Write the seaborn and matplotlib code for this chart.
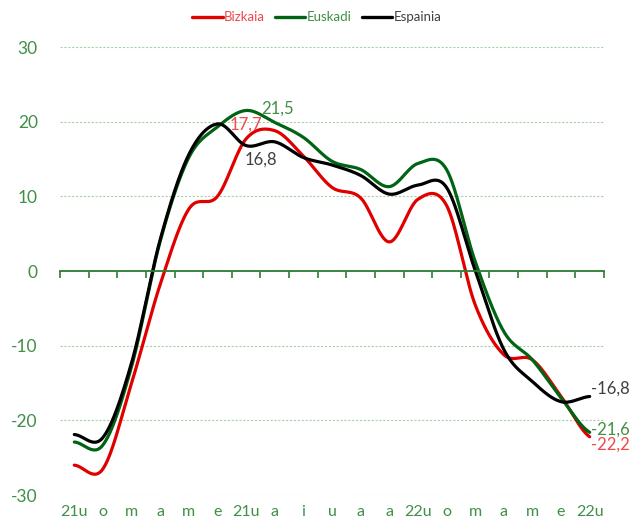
import numpy as np
import pandas as pd
import matplotlib
matplotlib.use("Agg")
import matplotlib.pyplot as plt
from matplotlib.lines import Line2D
import seaborn as sns

sns.set_style("white")
plt.rcParams['font.family'] = ['Lato', 'DejaVu Sans']

# categories (x axis)
months = ["21u", "o", "m", "a", "m", "e", "21u", "a", "i", "u", "a", "a",
          "22u", "o", "m", "a", "m", "e", "22u"]

bizkaia = [-26.0, -26.5, -15.0, -1.8, 8.3, 10.0, 17.7, 18.8, 15.4, 11.2,
           9.8, 3.9, 9.6, 8.8, -4.5, -11.2, -11.9, -16.8, -22.2]
euskadi = [-22.9, -23.3, -12.8, 4.0, 15.2, 19.3, 21.5, 19.9, 17.9, 14.7,
           13.6, 11.3, 14.4, 13.6, 1.3, -8.1, -11.9, -17.0, -21.6]
espainia = [-21.9, -22.3, -12.3, 4.2, 15.6, 19.7, 16.8, 17.3, 15.2, 14.2,
            12.8, 10.3, 11.5, 11.2, 0.1, -10.5, -14.8, -17.5, -16.8]

series = {"Bizkaia": bizkaia, "Euskadi": euskadi, "Espainia": espainia}
line_colors = {"Bizkaia": "#e00000", "Euskadi": "#006414", "Espainia": "#000000"}
text_colors = {"Bizkaia": "#f0474a", "Euskadi": "#3f8f46", "Espainia": "#404040"}
axis_green = "#3f8f46"


def smooth(vals, steps=30):
    # excel-like smoothed line (catmull-rom bezier through every point)
    v = np.asarray(vals, dtype=float)
    n = len(v)
    xs, ys = [], []
    t = np.linspace(0, 1, steps, endpoint=False)
    for i in range(n - 1):
        p0 = v[i - 1] if i > 0 else v[i]
        p1, p2 = v[i], v[i + 1]
        p3 = v[i + 2] if i + 2 < n else v[i + 1]
        c1 = p1 + (p2 - p0) / 6
        c2 = p2 - (p3 - p1) / 6
        y = (1 - t) ** 3 * p1 + 3 * (1 - t) ** 2 * t * c1 + 3 * (1 - t) * t ** 2 * c2 + t ** 3 * p2
        xs.extend(i + t)
        ys.extend(y)
    xs.append(n - 1)
    ys.append(v[-1])
    return np.array(xs), np.array(ys)


rows = []
for name, vals in series.items():
    xs, ys = smooth(vals)
    rows.append(pd.DataFrame({"x": xs, "v": ys, "serie": name}))
df = pd.concat(rows, ignore_index=True)

fig = plt.figure(figsize=(6.3, 5.23), dpi=100)
ax = fig.add_axes([0.0952, 0.0535, 0.8635, 0.8566])

sns.lineplot(data=df, x="x", y="v", hue="serie", palette=line_colors,
             sort=False, estimator=None, linewidth=2.3, legend=False, ax=ax)

ax.set_xlim(-0.5, len(months) - 0.5)
ax.set_ylim(-30, 30)
ax.set_xlabel("")
ax.set_ylabel("")

# horizontal dashed grid
ax.set_yticks(range(-30, 31, 10))
ax.set_yticklabels([str(v) for v in range(-30, 31, 10)])
ax.yaxis.grid(True, linestyle=(0, (2, 1.5)), color="#a8d0a8", linewidth=0.8)
ax.tick_params(axis="y", length=0, pad=16, labelsize=12.5, labelcolor=axis_green)

# zero line with ticks between categories
for s in ["top", "right", "left"]:
    ax.spines[s].set_visible(False)
ax.spines["bottom"].set_position(("data", 0))
ax.spines["bottom"].set_color("#2e7d32")
ax.spines["bottom"].set_linewidth(1.3)
ax.set_xticks(np.arange(-0.5, len(months), 1))
ax.tick_params(axis="x", bottom=True, direction="out", length=5, width=1.2,
               color="#2e7d32", labelbottom=False)

# category labels at bottom
sec = ax.secondary_xaxis(0)
sec.set_xticks(range(len(months)))
sec.set_xticklabels(months)
sec.tick_params(length=0, pad=7, labelsize=11.5, labelcolor=axis_green)
sec.spines["bottom"].set_visible(False)

# data labels
def fmt(v):
    return f"{v:.1f}".replace(".", ",")

ax.annotate(fmt(euskadi[6]), (6, euskadi[6]), xytext=(11, 1), textcoords="offset points",
            ha="left", va="center", fontsize=12, color=text_colors["Euskadi"])
ax.annotate(fmt(bizkaia[6]), (6, bizkaia[6]), xytext=(0, 10), textcoords="offset points",
            ha="center", va="center", fontsize=12, color=text_colors["Bizkaia"])
ax.annotate(fmt(espainia[6]), (6, espainia[6]), xytext=(11, -10), textcoords="offset points",
            ha="center", va="center", fontsize=12, color=text_colors["Espainia"])
last = len(months) - 1
ax.annotate(fmt(espainia[last]), (last, espainia[last]), xytext=(1, 6), textcoords="offset points",
            ha="left", va="center", fontsize=12, color=text_colors["Espainia"])
ax.annotate(fmt(euskadi[last]), (last, euskadi[last]), xytext=(1, 2), textcoords="offset points",
            ha="left", va="center", fontsize=12, color=text_colors["Euskadi"])
ax.annotate(fmt(bizkaia[last]), (last, bizkaia[last]), xytext=(1, -6), textcoords="offset points",
            ha="left", va="center", fontsize=12, color=text_colors["Bizkaia"])

# legend
handles = [Line2D([0], [0], color=line_colors[k], linewidth=2.4) for k in series]
leg = fig.legend(handles, list(series.keys()), loc="center", bbox_to_anchor=(0.503, 0.967),
                 ncol=3, frameon=False, fontsize=9.5, handlelength=2.3, handletextpad=0.12,
                 columnspacing=0.75)
for txt, k in zip(leg.get_texts(), series):
    txt.set_color(text_colors[k])

fig.savefig("out.png", dpi=100)
